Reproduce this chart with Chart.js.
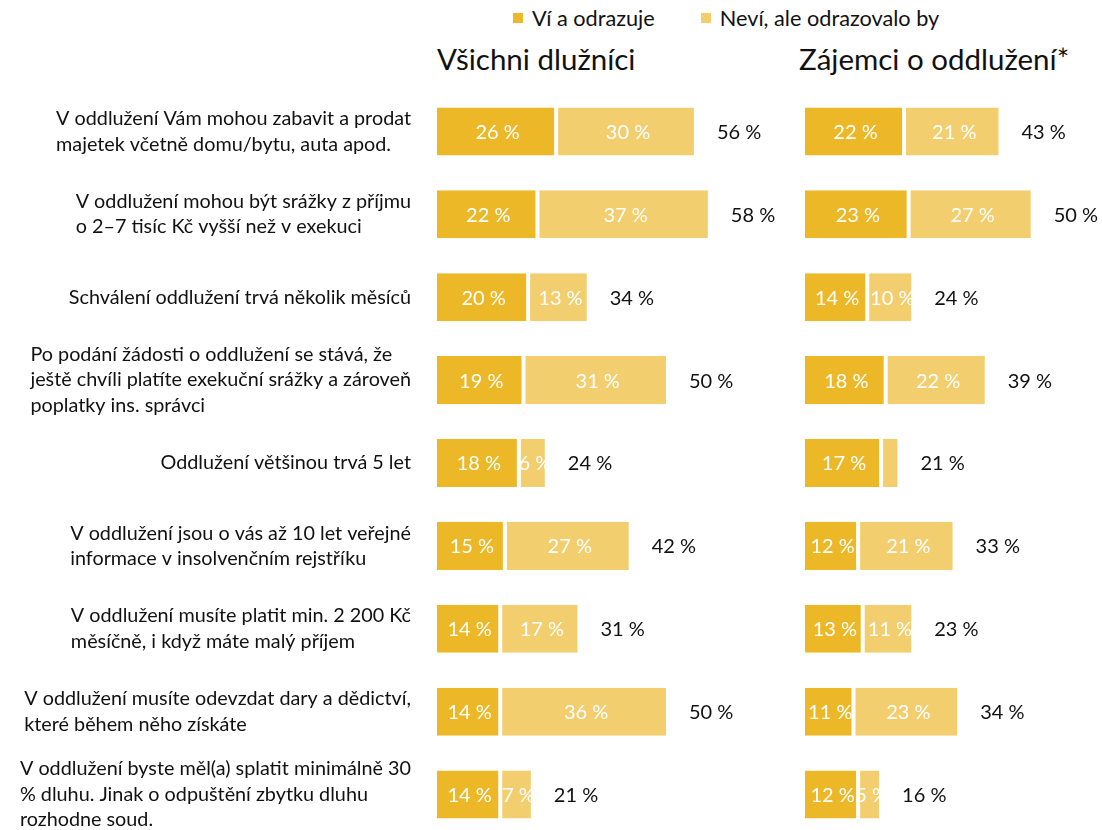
<!DOCTYPE html>
<html lang="cs">
<head>
<meta charset="utf-8">
<script src="https://cdn.jsdelivr.net/npm/chart.js@4.4.1/dist/chart.umd.min.js"></script>
<style>
  html, body { margin: 0; padding: 0; background: #fff; overflow: hidden; }
  #wrap { position: relative; width: 1102px; height: 830px; font-family: Lato, "Open Sans", sans-serif; color: #111; }
  .legend { position: absolute; top: 5px; left: 513px; font-size: 21.7px; display: flex; }
  .legend span { display: inline-flex; align-items: center; margin-right: 46px; }
  .legend i { display: inline-block; width: 10px; height: 10px; margin-right: 9px; }
  .title { position: absolute; top: 41px; font-size: 29.5px; white-space: nowrap; }
  #left { position: absolute; left: 0; top: 0; }
  #right { position: absolute; left: 790px; top: 0; }
</style>
</head>
<body>
<div id="wrap">
  <div class="legend">
    <span><i style="background:#EDB828"></i>Ví a odrazuje</span>
    <span><i style="background:#F2CE6E"></i>Neví, ale odrazovalo by</span>
  </div>
  <div class="title" style="left:437px">Všichni dlužníci</div>
  <div class="title" style="left:799px">Zájemci o oddlužení*</div>
  <canvas id="left" width="790" height="840"></canvas>
  <canvas id="right" width="312" height="840"></canvas>
</div>
<script>
const statements = [
  ["V oddlužení Vám mohou zabavit a prodat", "majetek včetně domu/bytu, auta apod."],
  ["V oddlužení mohou být srážky z příjmu", "o 2–7 tisíc Kč vyšší než v exekuci"],
  ["Schválení oddlužení trvá několik měsíců"],
  ["Po podání žádosti o oddlužení se stává, že", "ještě chvíli platíte exekuční srážky a zároveň", "poplatky ins. správci"],
  ["Oddlužení většinou trvá 5 let"],
  ["V oddlužení jsou o vás až 10 let veřejné", "informace v insolvenčním rejstříku"],
  ["V oddlužení musíte platit min. 2 200 Kč", "měsíčně, i když máte malý příjem"],
  ["V oddlužení musíte odevzdat dary a dědictví,", "které během něho získáte"],
  ["V oddlužení byste měl(a) splatit minimálně 30", "% dluhu. Jinak o odpuštění zbytku dluhu", "rozhodne soud."]
];

// Všichni dlužníci
const allKnows = [26, 22, 20, 19, 18, 15, 14, 14, 14];
const allWould = [30, 37, 13, 31, 6, 27, 17, 36, 7];
const allTotal = [56, 58, 34, 50, 24, 42, 31, 50, 21];

// Zájemci o oddlužení
const intKnows = [22, 23, 14, 18, 17, 12, 13, 11, 12];
const intWould = [21, 27, 10, 22, 4, 21, 11, 23, 5];
const intTotal = [43, 50, 24, 39, 21, 33, 23, 34, 16];

const seriesNames = ["Ví a odrazuje", "Neví, ale odrazovalo by"];
const DARK = "#EDB828";
const LIGHT = "#F2CE6E";
const FONT = "Lato, 'Open Sans', sans-serif";

// values inside segments + totals after the bar
const valueLabels = {
  id: "valueLabels",
  afterDatasetsDraw(chart, args, opts) {
    const ctx = chart.ctx;
    ctx.save();
    ctx.font = "20px " + FONT;
    ctx.textBaseline = "middle";
    ctx.textAlign = "center";
    chart.data.datasets.forEach((ds, di) => {
      const meta = chart.getDatasetMeta(di);
      meta.data.forEach((bar, i) => {
        const w = bar.x - bar.base;
        if (w < 20) return;
        ctx.save();
        if (di === 1) {
          ctx.beginPath();
          ctx.rect(bar.base, bar.y - bar.height / 2, w, bar.height);
          ctx.clip();
        }
        ctx.fillStyle = "#fff";
        ctx.fillText(ds.data[i] + " %", (bar.x + bar.base) / 2 + 2, bar.y + 1);
        ctx.restore();
      });
    });
    const last = chart.getDatasetMeta(chart.data.datasets.length - 1);
    ctx.textAlign = "left";
    ctx.fillStyle = "#111";
    last.data.forEach((bar, i) => {
      ctx.fillText(opts.totals[i] + " %", bar.x + 21, bar.y + 1);
    });
    ctx.restore();
  }
};

// category texts: lines left-aligned inside a block that ends at the axis
const categoryText = {
  id: "categoryText",
  afterDraw(chart, args, opts) {
    if (!opts.show) return;
    const ctx = chart.ctx;
    const y = chart.scales.y;
    ctx.save();
    ctx.font = "19.8px " + FONT;
    ctx.fillStyle = "#111";
    ctx.textBaseline = "middle";
    ctx.textAlign = "left";
    const lh = 25.5;
    chart.data.labels.forEach((lines, i) => {
      const wmax = Math.max(...lines.map(l => ctx.measureText(l).width));
      const x0 = opts.right - wmax;
      const cy = y.getPixelForValue(i);
      lines.forEach((l, k) => {
        ctx.fillText(l, x0, cy + (k - (lines.length - 1) / 2) * lh);
      });
    });
    ctx.restore();
  }
};

function makeChart(id, knows, would, totals, xMax, padLeft, showCats) {
  return new Chart(document.getElementById(id), {
    type: "bar",
    data: {
      labels: statements,
      datasets: [
        { label: seriesNames[0], data: knows, backgroundColor: DARK },
        { label: seriesNames[1], data: would, backgroundColor: LIGHT }
      ]
    },
    options: {
      indexAxis: "y",
      responsive: false,
      animation: false,
      events: [],
      layout: { padding: { left: padLeft, right: 0, top: 90, bottom: 4 } },
      datasets: {
        bar: {
          categoryPercentage: 1,
          barPercentage: 0.58,
          borderColor: "#fff",
          borderWidth: { left: 2, right: 2, top: 0, bottom: 0 },
          borderSkipped: false
        }
      },
      scales: {
        x: { stacked: true, min: 0, max: xMax, display: false },
        y: { stacked: true, display: false }
      },
      plugins: {
        legend: { display: false },
        tooltip: { enabled: false },
        valueLabels: { totals: totals },
        categoryText: { show: showCats, right: 411 }
      }
    },
    plugins: [valueLabels, categoryText]
  });
}

makeChart("left", allKnows, allWould, allTotal, 76.2, 435, true);
makeChart("right", intKnows, intWould, intTotal, 65.1, 13, false);
</script>
</body>
</html>
